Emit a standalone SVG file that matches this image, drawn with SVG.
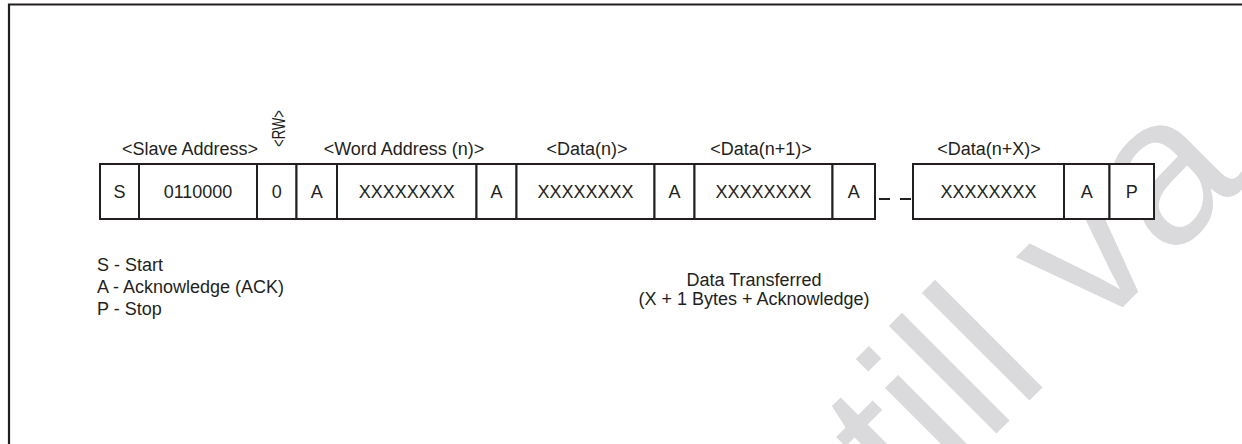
<svg xmlns="http://www.w3.org/2000/svg" width="1242" height="444" viewBox="0 0 1242 444">
<style>
text { font-family: "Liberation Sans", Arial, sans-serif; font-size: 18px; fill: #231f20; }
.c { text-anchor: middle; }
.cell { fill: #ffffff; stroke: #231f20; stroke-width: 2; }
.frame { fill: none; stroke: #231f20; stroke-width: 2.2; }
.dash { stroke: #231f20; stroke-width: 2; }
.wm { font-family: "Liberation Sans", Arial, sans-serif; font-size: 210px; fill: #dadadc; }
</style>
<rect width="1242" height="444" fill="#ffffff"/>
<text class="wm" transform="translate(838,592) rotate(-45)">still va</text>
<path class="frame" d="M9,444 V4.5 H1242"/>
<g id="labels">
<text class="c" x="190" y="155">&lt;Slave Address&gt;</text>
<text class="c" transform="translate(285,128.5) rotate(-90)" textLength="37" lengthAdjust="spacingAndGlyphs">&lt;RW&gt;</text>
<text class="c" x="404" y="155">&lt;Word Address (n)&gt;</text>
<text class="c" x="587" y="155">&lt;Data(n)&gt;</text>
<text class="c" x="761" y="155">&lt;Data(n+1)&gt;</text>
<text class="c" x="989" y="155">&lt;Data(n+X)&gt;</text>
</g>
<g id="cell-s"><rect class="cell" x="100" y="164" width="39" height="55"/><text class="c" x="119.5" y="198">S</text></g>
<g id="cell-addr"><rect class="cell" x="139" y="164" width="118" height="55"/><text class="c" x="198" y="198">0110000</text></g>
<g id="cell-rw"><rect class="cell" x="257" y="164" width="39.5" height="55"/><text class="c" x="276.7" y="198">0</text></g>
<g id="cell-a1"><rect class="cell" x="296.5" y="164" width="40.5" height="55"/><text class="c" x="316.7" y="198">A</text></g>
<g id="cell-word"><rect class="cell" x="337" y="164" width="139.5" height="55"/><text class="c" x="406.7" y="198">XXXXXXXX</text></g>
<g id="cell-a2"><rect class="cell" x="476.5" y="164" width="40" height="55"/><text class="c" x="496.5" y="198">A</text></g>
<g id="cell-data-n"><rect class="cell" x="516.5" y="164" width="138" height="55"/><text class="c" x="585.5" y="198">XXXXXXXX</text></g>
<g id="cell-a3"><rect class="cell" x="654.5" y="164" width="40" height="55"/><text class="c" x="674.5" y="198">A</text></g>
<g id="cell-data-n1"><rect class="cell" x="694.5" y="164" width="138" height="55"/><text class="c" x="763.5" y="198">XXXXXXXX</text></g>
<g id="cell-a4"><rect class="cell" x="832.5" y="164" width="42.5" height="55"/><text class="c" x="853.7" y="198">A</text></g>
<g id="cell-data-nx"><rect class="cell" x="913" y="164" width="151" height="55"/><text class="c" x="988.5" y="198">XXXXXXXX</text></g>
<g id="cell-a5"><rect class="cell" x="1064" y="164" width="45.5" height="55"/><text class="c" x="1086.7" y="198">A</text></g>
<g id="cell-p"><rect class="cell" x="1109.5" y="164" width="44.5" height="55"/><text class="c" x="1131.7" y="198">P</text></g>
<g id="connectors">
<line class="dash" x1="879" y1="199" x2="890" y2="199"/>
<line class="dash" x1="900" y1="199" x2="911" y2="199"/>
</g>
<g id="legend">
<text x="97" y="271">S - Start</text>
<text x="97" y="293">A - Acknowledge (ACK)</text>
<text x="97" y="315">P - Stop</text>
</g>
<g id="transfer-note">
<text class="c" x="754" y="286">Data Transferred</text>
<text class="c" x="754" y="305">(X + 1 Bytes + Acknowledge)</text>
</g>
</svg>
